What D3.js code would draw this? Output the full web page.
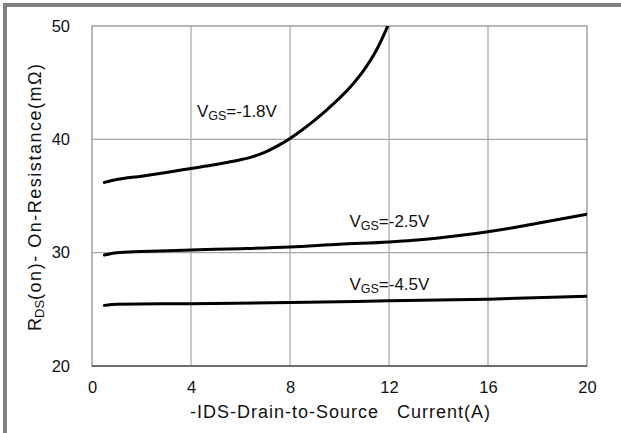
<!DOCTYPE html>
<html>
<head>
<meta charset="utf-8">
<script src="https://cdn.jsdelivr.net/npm/d3@7"></script>
<style>
  body { margin: 0; background: #fff; }
  svg { display: block; font-family: "Liberation Sans", Arial, sans-serif; }
</style>
</head>
<body>
<div id="chart"></div>
<script>
// values
let xTicks = [0, 4, 8, 12, 16, 20];
let yTicks = [20, 30, 40, 50];

let id_18 = [0.5, 1, 2, 3, 4, 5, 5.5, 6, 6.5, 7, 7.5, 8, 8.5, 9, 9.5, 10, 10.5, 11, 11.5, 11.95];
let r_18 = [36.2, 36.45, 36.75, 37.08, 37.43, 37.78, 37.98, 38.2, 38.48, 38.88, 39.42, 40.08, 40.85, 41.7, 42.63, 43.63, 44.78, 46.15, 47.9, 50.0];

let id_25 = [0.5, 1, 2, 4, 6, 8, 10, 12, 13, 14, 15, 16, 17, 18, 19, 20];
let r_25 = [29.8, 30.0, 30.1, 30.24, 30.35, 30.5, 30.75, 30.95, 31.1, 31.3, 31.55, 31.85, 32.2, 32.6, 33.0, 33.4];

let id_45 = [0.5, 1, 4, 8, 12, 16, 20];
let r_45 = [25.35, 25.45, 25.5, 25.6, 25.75, 25.9, 26.15];

let vgsLabels = ["-1.8V", "-2.5V", "-4.5V"];

let width = 621, height = 433;
let margin = {left: 92, top: 26, right: 34, bottom: 67};

let svg = d3.select("#chart")
    .append("svg")
    .attr("width", width)
    .attr("height", height);

// outer frame (only top and left edges show in the crop)
svg.append("rect").attr("x", 3).attr("y", 3).attr("width", width).attr("height", 4).attr("fill", "#808080");
svg.append("rect").attr("x", 3).attr("y", 3).attr("width", 4).attr("height", height).attr("fill", "#808080");

let x = d3.scaleLinear()
    .domain([0, 20])
    .range([margin.left, width - margin.right]);

let y = d3.scaleLinear()
    .domain([20, 50])
    .range([height - margin.bottom, margin.top]);

// grid
svg.append("g")
    .selectAll("line")
    .data(xTicks.slice(1, -1))
    .enter()
    .append("line")
    .attr("x1", d => x(d)).attr("x2", d => x(d))
    .attr("y1", y(20)).attr("y2", y(50))
    .attr("stroke", "#a6a6a6").attr("stroke-width", 1.2);

svg.append("g")
    .selectAll("line")
    .data(yTicks.slice(1, -1))
    .enter()
    .append("line")
    .attr("x1", x(0)).attr("x2", x(20))
    .attr("y1", d => y(d)).attr("y2", d => y(d))
    .attr("stroke", "#a6a6a6").attr("stroke-width", 1.2);

svg.append("rect")
    .attr("x", x(0)).attr("y", y(50))
    .attr("width", x(20) - x(0)).attr("height", y(20) - y(50))
    .attr("fill", "none").attr("stroke", "#a0a0a0").attr("stroke-width", 1.5);

svg.append("line")
    .attr("x1", x(0)).attr("x2", x(20))
    .attr("y1", y(20)).attr("y2", y(20))
    .attr("stroke", "#555").attr("stroke-width", 1.6);

// tick labels
let xAxis = d3.axisBottom(x).tickValues(xTicks).tickSize(0).tickPadding(15);
let gx = svg.append("g").attr("transform", `translate(0,${y(20)})`).call(xAxis);
gx.select(".domain").remove();
gx.selectAll("text").attr("font-size", 16.5).attr("font-family", "Liberation Sans, Arial, sans-serif").attr("fill", "#111");

let yAxis = d3.axisLeft(y).tickValues(yTicks).tickSize(0).tickPadding(22);
let gy = svg.append("g").attr("transform", `translate(${x(0)},0)`).call(yAxis);
gy.select(".domain").remove();
gy.selectAll("text").attr("font-size", 16.5).attr("font-family", "Liberation Sans, Arial, sans-serif").attr("fill", "#111");

// axis titles
svg.append("text")
    .attr("x", 190).attr("y", 418)
    .attr("font-size", 18).attr("fill", "#111")
    .attr("textLength", 300)
    .attr("lengthAdjust", "spacing")
    .style("white-space", "pre")
    .text("-IDS-Drain-to-Source   Current(A)");

let yt = svg.append("text")
    .attr("transform", `translate(41,331) rotate(-90)`)
    .attr("font-size", 18).attr("fill", "#111");
yt.append("tspan").text("R");
yt.append("tspan").attr("font-size", 13).attr("dy", 3).text("DS");
yt.append("tspan").attr("dy", -3)
    .attr("textLength", 236)
    .attr("lengthAdjust", "spacing")
    .text("(on)- On-Resistance(m\u03A9)");

// curves
let series = [
    {ids: id_18, r: r_18, name: vgsLabels[0], lx: 4.24, ly: 42.0},
    {ids: id_25, r: r_25, name: vgsLabels[1], lx: 10.4, ly: 32.3},
    {ids: id_45, r: r_45, name: vgsLabels[2], lx: 10.4, ly: 26.75}
];

svg.append("clipPath").attr("id", "plot-clip")
    .append("rect")
    .attr("x", x(0)).attr("y", y(50))
    .attr("width", x(20) - x(0)).attr("height", y(20) - y(50));

let line = d3.line()
    .x(d => x(d[0]))
    .y(d => y(d[1]))
    .curve(d3.curveMonotoneX);

svg.append("g")
    .attr("clip-path", "url(#plot-clip)")
    .selectAll("path")
    .data(series)
    .enter()
    .append("path")
    .attr("d", d => line(d3.zip(d.ids, d.r)))
    .attr("fill", "none")
    .attr("stroke", "#000")
    .attr("stroke-width", 3)
    .attr("stroke-linecap", "round");

let labels = svg.append("g")
    .selectAll("text")
    .data(series)
    .enter()
    .append("text")
    .attr("x", d => x(d.lx))
    .attr("y", d => y(d.ly))
    .attr("font-size", 17)
    .attr("fill", "#111");
labels.append("tspan").text("V");
labels.append("tspan").attr("font-size", 12.5).attr("dy", 3).text("GS");
labels.append("tspan").attr("dy", -3).text(d => "=" + d.name);
</script>
</body>
</html>
